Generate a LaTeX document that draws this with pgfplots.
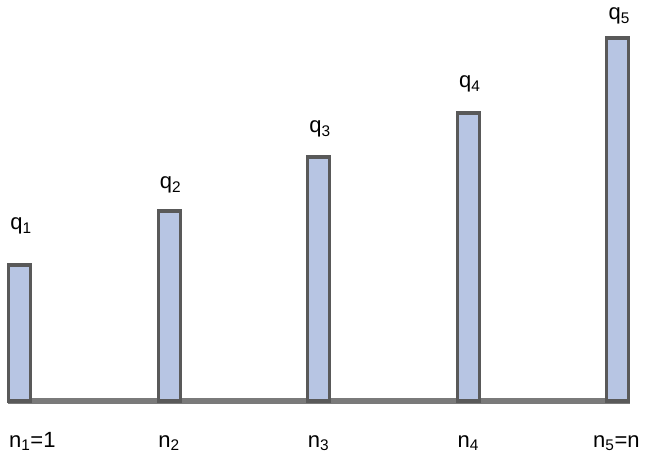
\documentclass[border=0pt]{standalone}
\usepackage{pgfplots}
\pgfplotsset{compat=1.18}
\usepackage{fontspec}
\setmainfont{Liberation Sans}
\definecolor{barfill}{HTML}{B7C5E3}
\definecolor{barline}{HTML}{595959}
\definecolor{baseline}{HTML}{7A7A7A}
\begin{document}
\begin{tikzpicture}[lbl/.style={font=\fontsize{16.5}{19}\selectfont}]
\begin{axis}[
  scale only axis,
  width=466.5pt, height=272.25pt,
  xmin=-0.077, xmax=4.081,
  ymin=0, ymax=363,
  hide axis,
  clip=false,
]
\addplot[draw=baseline, line width=5.2pt, line cap=butt] coordinates {(-0.077,0) (4.081,0)};
\addplot[ybar, bar width=16.5pt, fill=barfill, draw=barline, line width=2.3pt] coordinates {
 (0,136) (1,190) (2,244) (3,288) (4,363)};
\node[lbl, anchor=base] at (axis cs:0.01,171) {q\textsubscript{1}};
\node[lbl, anchor=base] at (axis cs:1.01,212) {q\textsubscript{2}};
\node[lbl, anchor=base] at (axis cs:2.01,268) {q\textsubscript{3}};
\node[lbl, anchor=base] at (axis cs:3.01,313) {q\textsubscript{4}};
\node[lbl, anchor=base] at (axis cs:4.01,381) {q\textsubscript{5}};
\node[lbl, anchor=base west, inner sep=0pt] at (axis cs:-0.072,-46) {n\textsubscript{1}=1};
\node[lbl, anchor=base] at (axis cs:1.0,-46) {n\textsubscript{2}};
\node[lbl, anchor=base] at (axis cs:2.0,-46) {n\textsubscript{3}};
\node[lbl, anchor=base] at (axis cs:3.0,-46) {n\textsubscript{4}};
\node[lbl, anchor=base] at (axis cs:3.99,-46) {n\textsubscript{5}=n};
\end{axis}
\path (current axis.south west) ++(-6pt,-47.25pt) coordinate (bbsw);
\path (current axis.north east) ++(12pt,28.5pt) coordinate (bbne);
\path (bbsw) rectangle (bbne);
\end{tikzpicture}
\end{document}
